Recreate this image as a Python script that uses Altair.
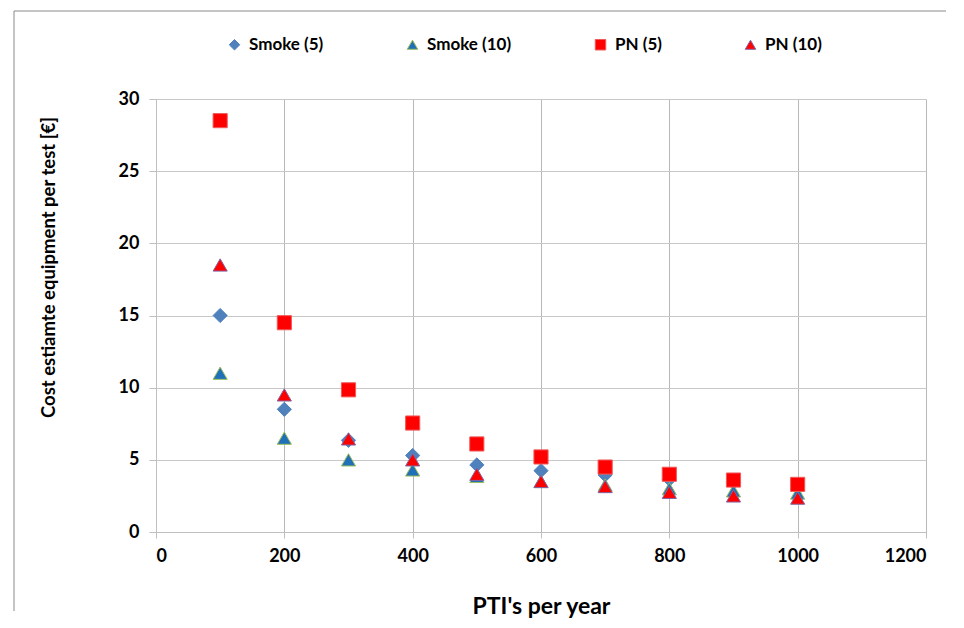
import altair as alt
import pandas as pd

# ---- data ----
pti = [100, 200, 300, 400, 500, 600, 700, 800, 900, 1000]
smoke5 = [15.0, 8.5, 6.35, 5.3, 4.65, 4.25, 3.95, 3.65, 3.45, 3.25]
smoke10 = [11.0, 6.5, 5.0, 4.3, 3.85, 3.5, 3.25, 3.0, 2.85, 2.7]
pn5 = [28.5, 14.5, 9.85, 7.55, 6.1, 5.2, 4.5, 4.0, 3.6, 3.3]
pn10 = [18.5, 9.5, 6.45, 5.0, 4.0, 3.5, 3.15, 2.75, 2.5, 2.35]

series_names = ["Smoke (5)", "Smoke (10)", "PN (5)", "PN (10)"]
series_values = [smoke5, smoke10, pn5, pn10]
fills = ["#4F81BD", "#1F70B8", "#FF0000", "#FF0000"]
strokes = ["#4F81BD", "#9BBB59", "#F05A5A", "#8064A2"]
shapes = ["diamond", "triangle-up", "square", "triangle-up"]

x_ticks = [0, 200, 400, 600, 800, 1000, 1200]
y_ticks = [0, 5, 10, 15, 20, 25, 30]

rows = []
for name, vals in zip(series_names, series_values):
    for x, v in zip(pti, vals):
        rows.append({"series": name, "pti": x, "cost": v})
df = pd.DataFrame(rows)

FONT = "Lato"

legend = alt.Legend(
    title=None,
    orient="none",
    direction="horizontal",
    legendX=70,
    legendY=-63,
    columnPadding=80,
    labelFont=FONT,
    labelFontSize=17,
    labelFontWeight="bold",
    labelColor="#000000",
    symbolSize=110,
    symbolStrokeWidth=1,
    labelOffset=6,
)

points = alt.Chart(df).mark_point(filled=True, size=200, strokeWidth=1, opacity=1).encode(
    x=alt.X(
        "pti:Q",
        scale=alt.Scale(domain=[0, 1200], nice=False, zero=True),
        axis=alt.Axis(
            values=x_ticks,
            format="d",
            title="PTI's per year",
            titleY=74,
            titleBaseline="middle",
            titleFontSize=23,
            gridColor="#B8B8B8",
            labelPadding=9,
            tickSize=6,
        ),
    ),
    y=alt.Y(
        "cost:Q",
        scale=alt.Scale(domain=[0, 30], nice=False),
        axis=alt.Axis(
            values=y_ticks,
            title="Cost estiamte equipment per test [€]",
            titleX=-108,
            titleY=168,
            titleAlign="center",
            titleBaseline="middle",
            titleFontSize=18.5,
            gridColor="#C8C8C8",
            labelPadding=10,
            tickSize=7,
        ),
    ),
    fill=alt.Fill("series:N", scale=alt.Scale(domain=series_names, range=fills), legend=legend),
    stroke=alt.Stroke("series:N", scale=alt.Scale(domain=series_names, range=strokes), legend=legend),
    shape=alt.Shape("series:N", scale=alt.Scale(domain=series_names, range=shapes), legend=legend),
)

frame_data = alt.Data(values=[{"a": 1}])
frame_top = alt.Chart(frame_data).mark_rule(color="#8A8A8A", strokeWidth=1).encode(
    x=alt.value(-142), x2=alt.value(790), y=alt.value(-88)
)
frame_left = alt.Chart(frame_data).mark_rule(color="#8A8A8A", strokeWidth=1).encode(
    x=alt.value(-142), y=alt.value(-88), y2=alt.value(512)
)

chart = alt.layer(frame_top, frame_left, points).properties(
    width=770,
    height=433,
    padding={"left": 5, "top": 2, "right": 5, "bottom": 5},
    background="#FFFFFF",
).configure(font=FONT).configure_view(stroke=None).configure_axis(
    labelFont=FONT,
    labelFontSize=18,
    labelFontWeight="bold",
    labelColor="#000000",
    titleFont=FONT,
    titleFontWeight="bold",
    titleColor="#000000",
    domainColor="#BFBFBF",
    tickColor="#BFBFBF",
    grid=True,
    gridWidth=1,
)

chart.save("out.html", embed_options={"renderer": "svg", "actions": False})
